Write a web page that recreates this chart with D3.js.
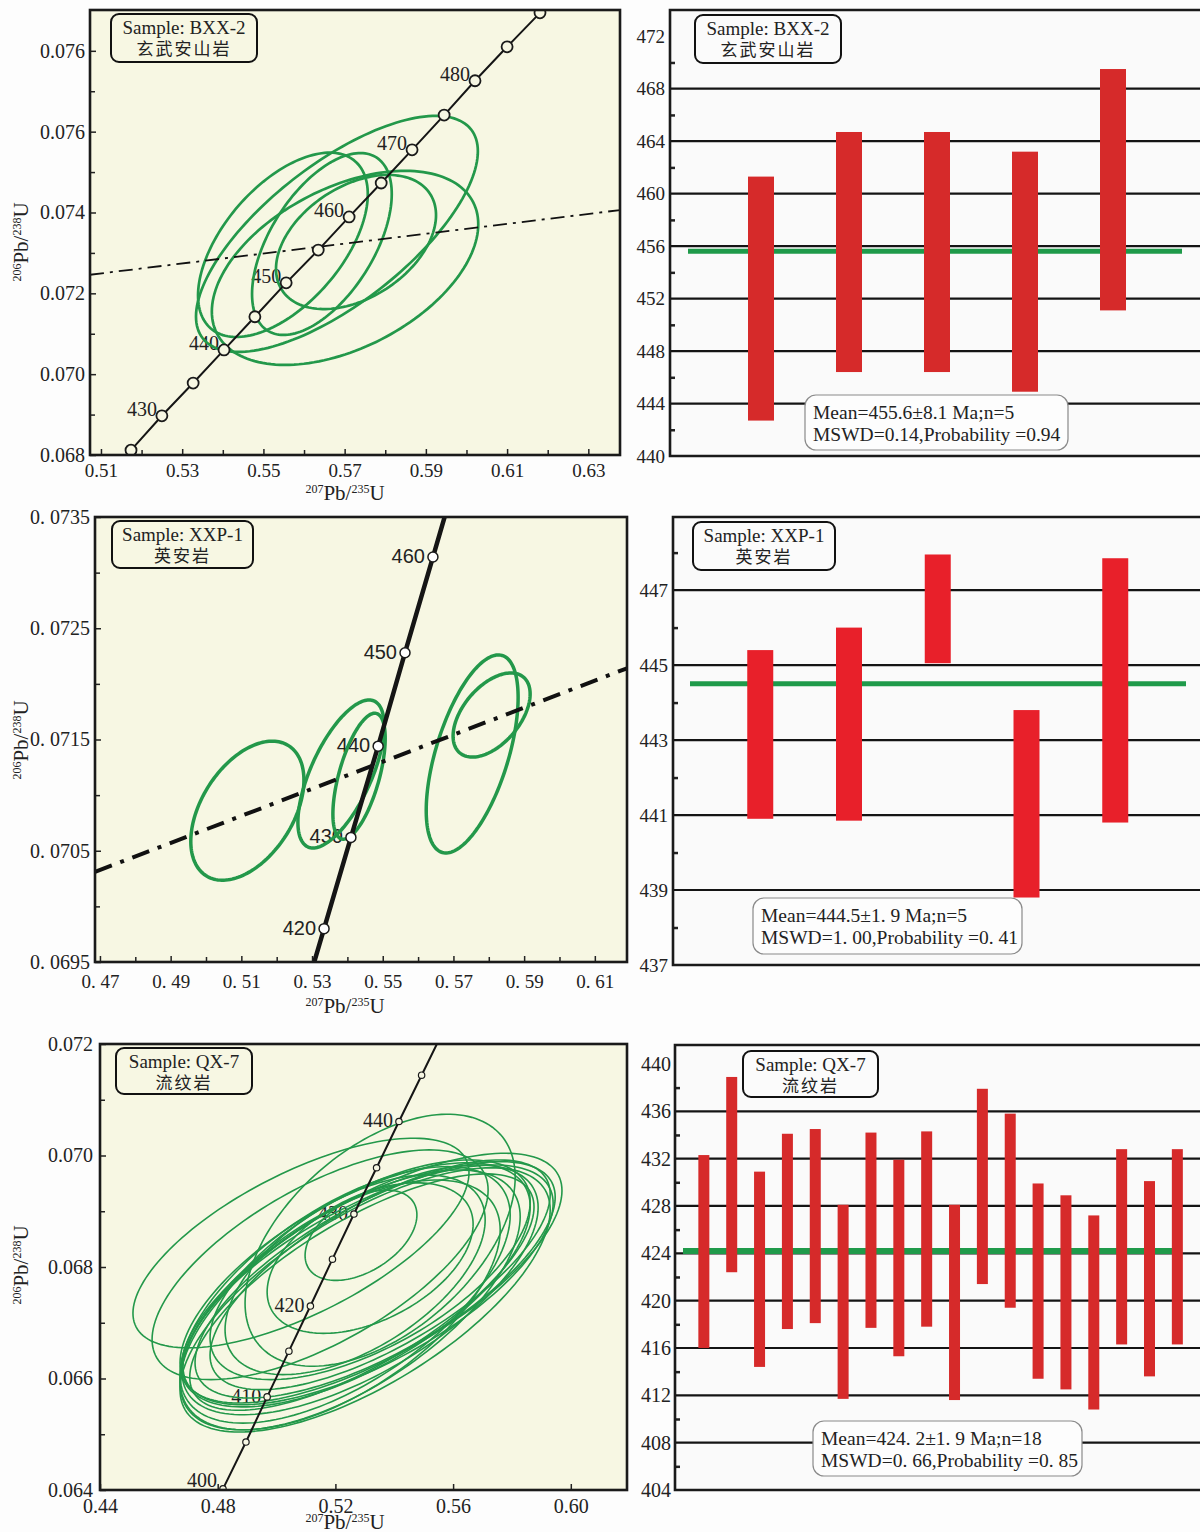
<!DOCTYPE html>
<html>
<head>
<meta charset="utf-8">
<style>
body{margin:0;background:#fdfdfd;}
svg text{font-family:"Liberation Serif","Times New Roman",serif;fill:#222;}
svg text.cjk{font-family:"Noto Sans CJK SC",sans-serif;}
svg text.sans{font-family:"Liberation Sans",Arial,sans-serif;}
</style>
</head>
<body>
<svg width="1200" height="1532"></svg>
<script src="https://cdn.jsdelivr.net/npm/d3@7/dist/d3.min.js"></script>
<script>
// ---------- sample BXX-2 : concordia ----------
var concA_age = [425,430,435,440,445,450,455,460,465,470,475,480,485,490];
var concA_x = [0.5174,0.5250,0.5327,0.5403,0.5479,0.5556,0.5635,0.5711,0.5790,0.5866,0.5945,0.6021,0.6100,0.6181];
var concA_y = [0.06812,0.06897,0.06978,0.07060,0.07142,0.07226,0.07307,0.07389,0.07473,0.07555,0.07641,0.07726,0.07810,0.07894];
var concA_lab = [430,440,450,460,470,480];
var ellA_cx = [0.5681,0.5701,0.5548,0.5644,0.5728];
var ellA_cy = [0.07347,0.07263,0.07320,0.07322,0.07327];
var ellA_sx = [0.0347,0.0328,0.0209,0.0172,0.0197];
var ellA_sy = [0.00292,0.00240,0.00228,0.00225,0.00166];
var ellA_rho = [0.70,0.45,0.55,0.55,0.40];
var discA_x = [0.5073,0.6378];
var discA_y = [0.07246,0.07406];
var tickA_x = [0.51,0.53,0.55,0.57,0.59,0.61,0.63];
var tickA_xlab = ["0.51","0.53","0.55","0.57","0.59","0.61","0.63"];
var tickA_y = [0.068,0.070,0.072,0.074,0.076,0.078];
var tickA_ylab = ["0.068","0.070","0.072","0.074","0.076","0.076"];
var minorA_x = [0.52,0.54,0.56,0.58,0.60,0.62];
var minorA_y = [0.069,0.071,0.073,0.075,0.077];

// ---------- sample XXP-1 : concordia ----------
var concB_age = [420,430,440,450,460];
var concB_x = [0.5334,0.5410,0.5487,0.5563,0.5642];
var concB_y = [0.06980,0.07062,0.07144,0.07228,0.07314];
var concB_lab = [420,430,440,450,460];
var ellB_cx = [0.5117,0.5382,0.5433,0.5753,0.5808];
var ellB_cy = [0.07086,0.07119,0.07117,0.07137,0.07172];
var ellB_sx = [0.0160,0.0122,0.0074,0.0130,0.0109];
var ellB_sy = [0.000625,0.000665,0.000566,0.00089,0.000378];
var ellB_rho = [0.44,0.65,0.60,0.57,0.50];
var discB_x = [0.4686,0.6191];
var discB_y = [0.07031,0.07214];
var tickB_x = [0.47,0.49,0.51,0.53,0.55,0.57,0.59,0.61];
var tickB_xlab = ["0. 47","0. 49","0. 51","0. 53","0. 55","0. 57","0. 59","0. 61"];
var tickB_y = [0.0695,0.0705,0.0715,0.0725,0.0735];
var tickB_ylab = ["0. 0695","0. 0705","0. 0715","0. 0725","0. 0735"];
var minorB_x = [0.48,0.50,0.52,0.54,0.56,0.58,0.60];
var minorB_y = [0.0700,0.0710,0.0720,0.0730];

// ---------- sample QX-7 : concordia ----------
var concC_age = [400,405,410,415,420,425,430,435,440,445];
var concC_x = [0.4818,0.4896,0.4968,0.5042,0.5115,0.5190,0.5263,0.5340,0.5416,0.5493];
var concC_y = [0.06402,0.06486,0.06567,0.06649,0.06730,0.06814,0.06895,0.06978,0.07061,0.07144];
var concC_lab = [400,410,420,430,440];
var ellC_cx = [0.5083,0.5148,0.5352,0.5324,0.5287,0.5318,0.5267,0.5284,0.5311,0.5250,0.5335,0.5233,0.5301,0.5267,0.5352,0.5216,0.5290,0.5318];
var ellC_cy = [0.06843,0.06804,0.06848,0.06780,0.06857,0.06816,0.06786,0.06759,0.06768,0.06741,0.06777,0.06750,0.06741,0.06768,0.06786,0.06732,0.06755,0.06795];
var ellC_sx = [0.0571,0.0571,0.0459,0.0646,0.0190,0.0350,0.0442,0.0605,0.0629,0.0578,0.0612,0.0561,0.0629,0.0595,0.0578,0.0544,0.0585,0.0544];
var ellC_sy = [0.00188,0.00206,0.00226,0.00224,0.00081,0.00135,0.00179,0.00224,0.00215,0.00233,0.00212,0.00230,0.00237,0.00219,0.00206,0.00224,0.00212,0.00197];
var ellC_rho = [0.67,0.65,0.50,0.70,0.45,0.45,0.55,0.66,0.68,0.64,0.70,0.62,0.68,0.64,0.70,0.60,0.72,0.62];
var tickC_x = [0.44,0.48,0.52,0.56,0.60];
var tickC_xlab = ["0.44","0.48","0.52","0.56","0.60"];
var tickC_y = [0.064,0.066,0.068,0.070,0.072];
var tickC_ylab = ["0.064","0.066","0.068","0.070","0.072"];
var minorC_y = [0.065,0.067,0.069,0.071];

// ---------- weighted mean ages ----------
var wmA_lo = [442.7,446.4,446.4,444.9,451.1];
var wmA_hi = [461.3,464.7,464.7,463.2,469.5];
var wmA_mean = 455.6;
var wmA_ticks = [440,444,448,452,456,460,464,468,472];
var wmA_grid = [444,448,452,456,460,464,468];
var wmA_minor = [442,446,450,454,458,462,466,470];

var wmB_lo = [440.9,440.85,445.05,438.8,440.8];
var wmB_hi = [445.4,446.0,447.95,443.8,447.85];
var wmB_mean = 444.5;
var wmB_ticks = [437,439,441,443,445,447];
var wmB_grid = [439,441,443,445,447];
var wmB_minor = [438,440,442,444,446,448];

var wmC_lo = [416.0,422.4,414.4,417.6,418.1,411.7,417.7,415.3,417.8,411.6,421.4,419.4,413.4,412.5,410.8,416.3,413.6,416.3];
var wmC_hi = [432.3,438.9,430.9,434.1,434.5,428.1,434.2,431.9,434.3,428.1,437.9,435.8,429.9,428.9,427.2,432.8,430.1,432.8];
var wmC_mean = 424.2;
var wmC_ticks = [404,408,412,416,420,424,428,432,436,440];
var wmC_grid = [408,412,416,420,424,428,432,436];
var wmC_minor = [406,410,414,418,422,426,430,434,438];

var samples = ["Sample: BXX-2","Sample: XXP-1","Sample: QX-7"];
var rocks = ["玄武安山岩","英安岩","流纹岩"];
var meanText = [
  ["Mean=455.6\u00b18.1 Ma;n=5","MSWD=0.14,Probability =0.94"],
  ["Mean=444.5\u00b11. 9 Ma;n=5","MSWD=1. 00,Probability =0. 41"],
  ["Mean=424. 2\u00b11. 9 Ma;n=18","MSWD=0. 66,Probability =0. 85"]
];

var svg = d3.select("svg");
var GREEN = "#23984a", CREAM = "#f7f7e3";

function ellipsePts(cx, cy, sx, sy, r) {
  var pts = [], n = 160, q = Math.sqrt(1 - r * r);
  for (var i = 0; i < n; i++) {
    var t = 2 * Math.PI * i / n;
    pts.push([cx + sx * Math.cos(t), cy + sy * (r * Math.cos(t) + q * Math.sin(t))]);
  }
  return pts;
}

function isoTitle(g, tx, ty, rot, a, e1, b, e2) {
  var t = g.append("text").attr("text-anchor", "middle").attr("font-size", 21)
    .attr("transform", "translate(" + tx + "," + ty + ")" + (rot ? " rotate(-90)" : ""));
  t.append("tspan").attr("font-size", 12).attr("dy", -7).text(a);
  t.append("tspan").attr("dy", 7).text(e1);
  t.append("tspan").attr("font-size", 12).attr("dy", -7).text(b);
  t.append("tspan").attr("dy", 7).text(e2);
}

function sampleBox(g, b, i, fill) {
  g.append("rect").attr("x", b[0]).attr("y", b[1]).attr("width", b[2] - b[0]).attr("height", b[3] - b[1])
    .attr("rx", 8).attr("fill", fill).attr("stroke", "#111").attr("stroke-width", 2);
  var cx = (b[0] + b[2]) / 2;
  g.append("text").attr("x", cx).attr("y", b[1] + 20).attr("text-anchor", "middle").attr("font-size", 19).text(samples[i]);
  g.append("text").attr("class", "cjk").attr("x", cx).attr("y", b[1] + 41).attr("text-anchor", "middle")
    .attr("font-size", 17).attr("letter-spacing", 2).attr("fill", "#333").text(rocks[i]);
}

function styleAxis(ga, fs) {
  ga.attr("font-size", fs).attr("font-family", null);
  ga.select(".domain").remove();
  ga.selectAll("line").attr("stroke", "#222").attr("stroke-width", 1.5);
  ga.selectAll("text").attr("fill", "#222");
}

function drawConcordia(c) {
  var x = d3.scaleLinear().domain(c.xdom).range([c.left, c.right]);
  var y = d3.scaleLinear().domain(c.ydom).range([c.bottom, c.top]);
  var g = svg.append("g");
  g.append("rect").attr("x", c.left).attr("y", c.top).attr("width", c.right - c.left)
    .attr("height", c.bottom - c.top).attr("fill", CREAM);
  svg.append("clipPath").attr("id", "clip" + c.id).append("rect")
    .attr("x", c.left).attr("y", c.top).attr("width", c.right - c.left).attr("height", c.bottom - c.top);

  // age labels on concordia (kept inside the frame)
  c.age.forEach(function (a, i) {
    if (c.lab.indexOf(a) < 0) return;
    g.append("text").attr("class", c.labClass || null)
      .attr("x", x(c.cx[i]) + c.labDx).attr("y", Math.min(y(c.cy[i]) + c.labDy, c.bottom - 3))
      .attr("text-anchor", "end").attr("font-size", 20).attr("fill", "#2a2a2a").text(a);
  });

  var inner = g.append("g").attr("clip-path", "url(#clip" + c.id + ")");

  // error ellipses
  var eline = d3.line().x(function (d) { return x(d[0]); }).y(function (d) { return y(d[1]); })
    .curve(d3.curveLinearClosed);
  c.ecx.forEach(function (v, i) {
    inner.append("path").attr("d", eline(ellipsePts(v, c.ecy[i], c.esx[i], c.esy[i], c.erho[i])))
      .attr("fill", "none").attr("stroke", GREEN).attr("stroke-width", c.ew);
  });

  // discordia
  if (c.dx) {
    inner.append("line").attr("x1", x(c.dx[0])).attr("y1", y(c.dy[0]))
      .attr("x2", x(c.dx[1])).attr("y2", y(c.dy[1]))
      .attr("stroke", "#111").attr("stroke-width", c.dw).attr("stroke-dasharray", c.dash);
  }

  // concordia curve, extended to the frame
  var pts = c.cx.map(function (v, i) { return [x(v), y(c.cy[i])]; });
  var n = pts.length, p0 = pts[0], p1 = pts[1], q0 = pts[n - 1], q1 = pts[n - 2];
  var full = [[p0[0] + (p0[0] - p1[0]) * 4, p0[1] + (p0[1] - p1[1]) * 4]].concat(pts)
    .concat([[q0[0] + (q0[0] - q1[0]) * 4, q0[1] + (q0[1] - q1[1]) * 4]]);
  inner.append("path").attr("d", d3.line()(full)).attr("fill", "none")
    .attr("stroke", "#151515").attr("stroke-width", c.cw);
  inner.selectAll("circle.ag").data(pts).enter().append("circle")
    .attr("cx", function (d) { return d[0]; }).attr("cy", function (d) { return d[1]; })
    .attr("r", c.cr).attr("fill", c.cfill).attr("stroke", "#1a1a1a").attr("stroke-width", c.csw);

  // axes
  var gx = g.append("g").attr("transform", "translate(0," + c.bottom + ")")
    .call(d3.axisBottom(x).tickValues(c.xt).tickSize(-6).tickPadding(c.xpad)
      .tickFormat(function (d) { return c.xl[c.xt.indexOf(d)]; }));
  styleAxis(gx, c.fx);
  if (c.xm) {
    var gxm = g.append("g").attr("transform", "translate(0," + c.bottom + ")")
      .call(d3.axisBottom(x).tickValues(c.xm).tickSize(-5).tickFormat(""));
    styleAxis(gxm, 10);
  }
  var gy = g.append("g").attr("transform", "translate(" + c.left + ",0)")
    .call(d3.axisLeft(y).tickValues(c.yt).tickSize(-6).tickPadding(c.ypad)
      .tickFormat(function (d) { return c.yl[c.yt.indexOf(d)]; }));
  styleAxis(gy, c.fy);
  var gym = g.append("g").attr("transform", "translate(" + c.left + ",0)")
    .call(d3.axisLeft(y).tickValues(c.ym).tickSize(-5).tickFormat(""));
  styleAxis(gym, 10);

  g.append("rect").attr("x", c.left).attr("y", c.top).attr("width", c.right - c.left)
    .attr("height", c.bottom - c.top).attr("fill", "none").attr("stroke", "#1a1a1a").attr("stroke-width", 2.6);

  sampleBox(g, c.box, c.si, CREAM);
  isoTitle(g, c.xtitle[0], c.xtitle[1], false, "207", "Pb/", "235", "U");
  isoTitle(g, c.ytitle[0], c.ytitle[1], true, "206", "Pb/", "238", "U");
}

function drawMean(c) {
  var n = c.lo.length;
  var x = d3.scaleLinear().domain([0, n + 1]).range([c.x0, c.x1]);
  var y = d3.scaleLinear().domain(c.ydom).range([c.bottom, c.top]);
  var g = svg.append("g");
  g.append("rect").attr("x", c.left).attr("y", c.top).attr("width", 1205 - c.left)
    .attr("height", c.bottom - c.top).attr("fill", "#fafafa");
  g.selectAll("line.grid").data(c.grid).enter().append("line")
    .attr("x1", c.left).attr("x2", 1205).attr("y1", y).attr("y2", y)
    .attr("stroke", "#141414").attr("stroke-width", 2.2);
  var gm = g.append("g").attr("transform", "translate(" + c.left + ",0)")
    .call(d3.axisLeft(y).tickValues(c.minor).tickSize(-5).tickFormat(""));
  styleAxis(gm, 10);
  gm.selectAll("line").attr("stroke-width", 2.5);
  var gl = g.append("g").attr("transform", "translate(" + c.left + ",0)")
    .call(d3.axisLeft(y).tickValues(c.ticks).tickSize(0).tickPadding(c.pad));
  styleAxis(gl, c.fs);

  g.append("line").attr("x1", c.m0).attr("x2", c.m1).attr("y1", y(c.mean)).attr("y2", y(c.mean))
    .attr("stroke", "#1f9a4a").attr("stroke-width", c.mw);
  g.selectAll("rect.bar").data(c.lo).enter().append("rect")
    .attr("x", function (d, i) { return x(i + 1) - c.bw / 2; })
    .attr("y", function (d, i) { return y(c.hi[i]); })
    .attr("width", c.bw)
    .attr("height", function (d, i) { return y(d) - y(c.hi[i]); })
    .attr("fill", c.color);

  g.append("path").attr("d", "M1205," + c.top + "H" + c.left + "V" + c.bottom + "H1205")
    .attr("fill", "none").attr("stroke", "#1a1a1a").attr("stroke-width", 2.6);

  sampleBox(g, c.box, c.si, "#fbfbfb");
  var mb = c.mbox;
  g.append("rect").attr("x", mb[0]).attr("y", mb[1]).attr("width", mb[2] - mb[0]).attr("height", mb[3] - mb[1])
    .attr("rx", 11).attr("fill", "#fdfdfd").attr("stroke", "#8a8a8a").attr("stroke-width", 1.2);
  g.append("text").attr("x", mb[0] + 8).attr("y", mb[1] + 24).attr("font-size", 19.5).text(meanText[c.si][0]);
  g.append("text").attr("x", mb[0] + 8).attr("y", mb[1] + 46).attr("font-size", 19.5).text(meanText[c.si][1]);
}

drawConcordia({
  id: "A", si: 0, left: 90, right: 620, top: 10, bottom: 455,
  xdom: [0.5073, 0.6378], ydom: [0.068, 0.07901],
  age: concA_age, cx: concA_x, cy: concA_y, lab: concA_lab, labDx: -5, labDy: 0,
  ecx: ellA_cx, ecy: ellA_cy, esx: ellA_sx, esy: ellA_sy, erho: ellA_rho, ew: 2.7,
  dx: discA_x, dy: discA_y, dw: 1.8, dash: "14,6,3,6",
  cw: 2, cr: 5.5, cfill: CREAM, csw: 1.8,
  xt: tickA_x, xl: tickA_xlab, xm: minorA_x, yt: tickA_y, yl: tickA_ylab, ym: minorA_y,
  xpad: 9, ypad: 5, fx: 19, fy: 20,
  box: [111, 14, 257, 62], xtitle: [345, 500], ytitle: [28, 242]
});
drawConcordia({
  id: "B", si: 1, left: 95, right: 627, top: 517, bottom: 962,
  xdom: [0.4686, 0.6191], ydom: [0.0695, 0.0735],
  age: concB_age, cx: concB_x, cy: concB_y, lab: concB_lab, labDx: -8, labDy: 6, labClass: "sans",
  ecx: ellB_cx, ecy: ellB_cy, esx: ellB_sx, esy: ellB_sy, erho: ellB_rho, ew: 3.5,
  dx: discB_x, dy: discB_y, dw: 4, dash: "18,9,4,9",
  cw: 4.5, cr: 5, cfill: "#ffffff", csw: 1.5,
  xt: tickB_x, xl: tickB_xlab, xm: minorB_x, yt: tickB_y, yl: tickB_ylab, ym: minorB_y,
  xpad: 13, ypad: 5, fx: 19, fy: 20,
  box: [112, 521, 253, 568], xtitle: [345, 1013], ytitle: [28, 740]
});
drawConcordia({
  id: "C", si: 2, left: 100, right: 627, top: 1044, bottom: 1490,
  xdom: [0.44, 0.6191], ydom: [0.064, 0.072],
  age: concC_age, cx: concC_x, cy: concC_y, lab: concC_lab, labDx: -6, labDy: 6,
  ecx: ellC_cx, ecy: ellC_cy, esx: ellC_sx, esy: ellC_sy, erho: ellC_rho, ew: 1.6,
  cw: 2, cr: 3.2, cfill: CREAM, csw: 1.2,
  xt: tickC_x, xl: tickC_xlab, yt: tickC_y, yl: tickC_ylab, ym: minorC_y,
  xpad: 9, ypad: 7, fx: 20, fy: 20,
  box: [116, 1048, 252, 1094], xtitle: [345, 1529], ytitle: [28, 1265]
});

drawMean({
  si: 0, left: 670, top: 10, bottom: 456, ydom: [440, 474], x0: 673, x1: 1201,
  lo: wmA_lo, hi: wmA_hi, mean: wmA_mean, ticks: wmA_ticks, grid: wmA_grid, minor: wmA_minor,
  bw: 26, color: "#d62a2a", m0: 688, m1: 1182, mw: 5, pad: 5, fs: 19,
  box: [695, 15, 841, 63], mbox: [805, 395, 1068, 450]
});
drawMean({
  si: 1, left: 673, top: 517, bottom: 965, ydom: [437, 448.95], x0: 671.5, x1: 1204,
  lo: wmB_lo, hi: wmB_hi, mean: wmB_mean, ticks: wmB_ticks, grid: wmB_grid, minor: wmB_minor,
  bw: 26, color: "#e8202a", m0: 690, m1: 1186, mw: 5, pad: 5, fs: 19,
  box: [693, 522, 835, 570], mbox: [753, 898, 1022, 954]
});
drawMean({
  si: 2, left: 675, top: 1045, bottom: 1490, ydom: [404, 441.6], x0: 676, x1: 1205.2,
  lo: wmC_lo, hi: wmC_hi, mean: wmC_mean, ticks: wmC_ticks, grid: wmC_grid, minor: wmC_minor,
  bw: 11, color: "#d62a2a", m0: 683, m1: 1172, mw: 6, pad: 4, fs: 20,
  box: [743, 1051, 878, 1097], mbox: [813, 1421, 1082, 1476]
});
</script>
</body>
</html>
